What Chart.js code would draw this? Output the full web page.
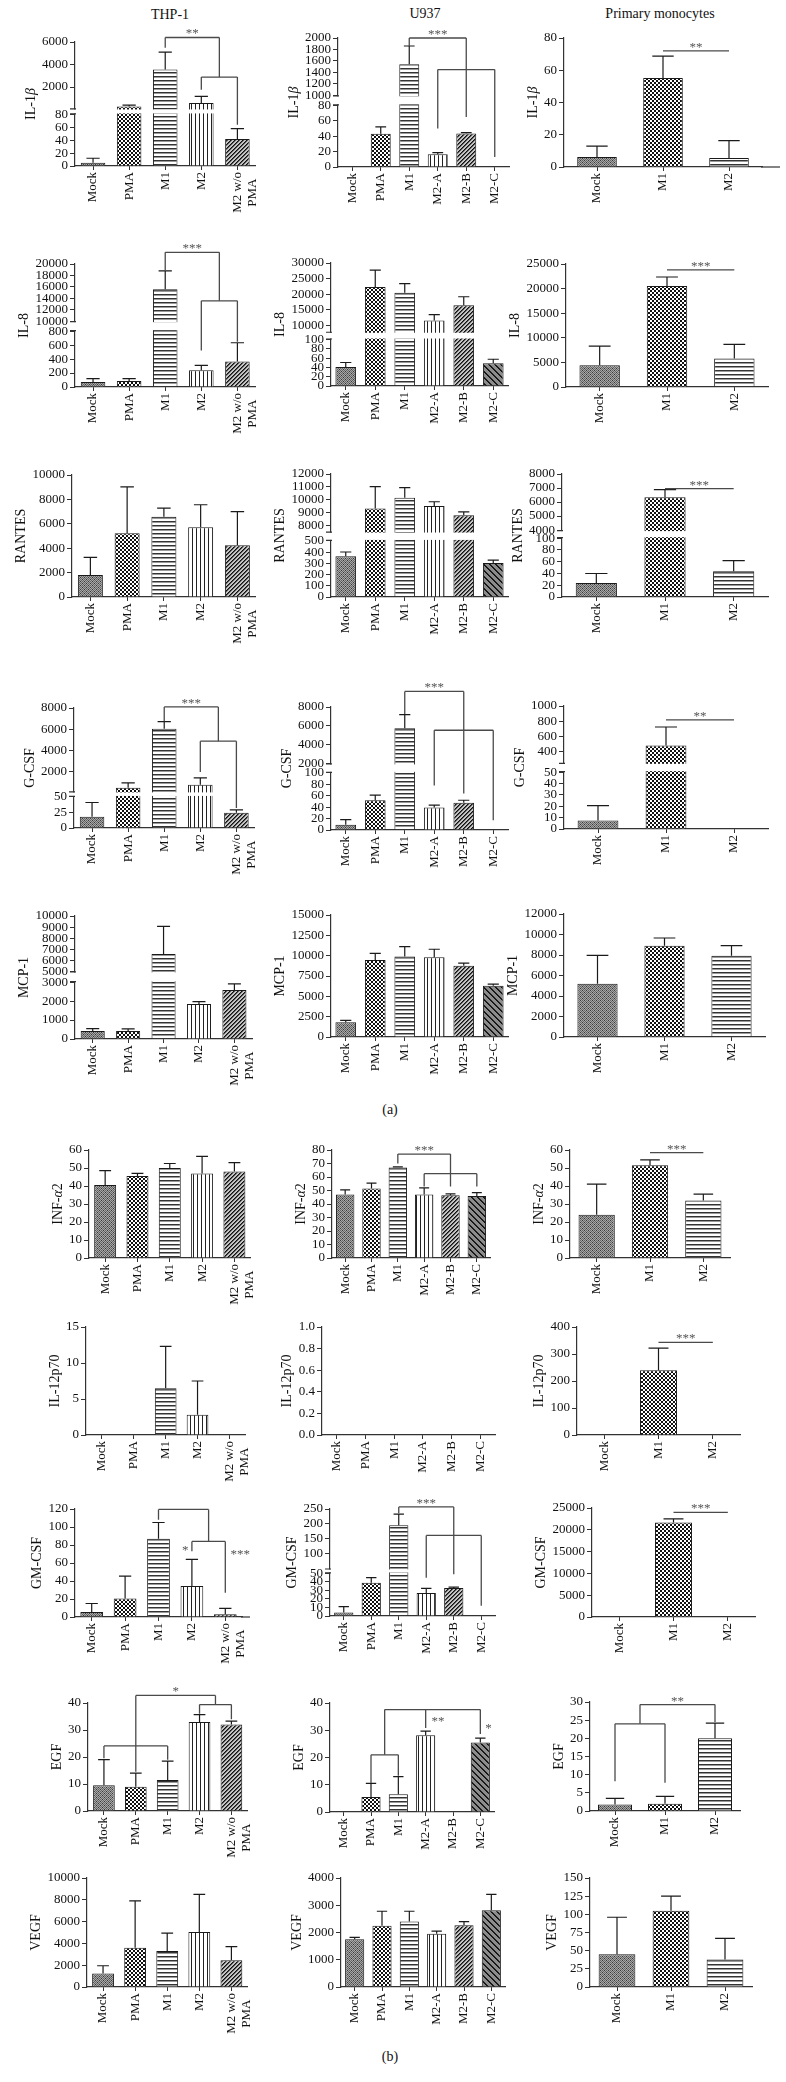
<!DOCTYPE html>
<html><head><meta charset="utf-8">
<script src="https://cdn.jsdelivr.net/npm/chart.js"></script>
<style>
body{margin:0;background:#fff;}
#page{position:relative;width:786px;height:2082px;overflow:hidden;font-family:"Liberation Serif",serif;color:#111;background:#fff;}
.ttl{position:absolute;transform:translate(-50%,-50%);white-space:nowrap;line-height:1;}
</style></head>
<body><div id="page"></div>
<script>
// ---------- categories ----------
const CAT_THP1 = ['Mock','PMA','M1','M2',['M2 w/o','PMA  ']];
const CAT_U937 = ['Mock','PMA','M1','M2-A','M2-B','M2-C'];
const CAT_PRIM = ['Mock','M1','M2'];

// ---------- values (mean) and error (upper SD/SEM) ----------
const IL1B_THP1 = [5, 270, 3550, 580, 42];
const IL1B_THP1_ERR = [7, 130, 1550, 590, 16];
const IL1B_U937 = [0, 43, 1540, 16.5, 43.5, 0];
const IL1B_U937_ERR = [0, 9, 320, 2.2, 1, 0];
const IL1B_PRIM = [6.2, 55.2, 5.6];
const IL1B_PRIM_ERR = [6.8, 13.5, 10.8];

const IL8_THP1 = [70, 85, 15600, 240, 367];
const IL8_THP1_ERR = [50, 35, 3200, 70, 267];
const IL8_U937 = [41, 22300, 20500, 11600, 16500, 49];
const IL8_U937_ERR = [9.5, 5400, 2900, 1900, 2700, 8.5];
const IL8_PRIM = [4430, 20530, 5800];
const IL8_PRIM_ERR = [3870, 1830, 2850];

const RANTES_THP1 = [1800, 5220, 6580, 5710, 4250];
const RANTES_THP1_ERR = [1450, 3800, 700, 1850, 2750];
const RANTES_U937 = [363, 9310, 10140, 9490, 8780, 304];
const RANTES_U937_ERR = [38, 1700, 800, 340, 260, 24];
const RANTES_PRIM = [24, 6350, 44];
const RANTES_PRIM_ERR = [16, 530, 18];

const GCSF_THP1 = [18, 450, 6040, 733, 24.7];
const GCSF_THP1_ERR = [23, 450, 670, 640, 4.5];
const GCSF_U937 = [9, 52, 5740, 39.5, 47.5, 0];
const GCSF_U937_ERR = [9, 9, 1460, 4, 4.5, 0];
const GCSF_PRIM = [7.5, 478, 0];
const GCSF_PRIM_ERR = [13, 245, 0];

const MCP1_THP1 = [420, 420, 6580, 1850, 2590];
const MCP1_THP1_ERR = [130, 110, 2480, 120, 320];
const MCP1_U937 = [1800, 9480, 9890, 9810, 8750, 6300];
const MCP1_U937_ERR = [250, 810, 1220, 980, 330, 200];
const MCP1_PRIM = [5200, 8910, 7930];
const MCP1_PRIM_ERR = [2760, 750, 980];

const INFA2_THP1 = [40.5, 45.5, 50, 47, 48];
const INFA2_THP1_ERR = [8, 1.5, 2.5, 9.5, 5];
const INFA2_U937 = [47, 51.5, 67, 47, 46.5, 46];
const INFA2_U937_ERR = [3.5, 4, 0.5, 5, 1, 2.5];
const INFA2_PRIM = [24, 51.5, 32];
const INFA2_PRIM_ERR = [17, 3, 3.5];

const IL12_THP1 = [0, 0, 6.5, 2.8, 0];
const IL12_THP1_ERR = [0, 0, 5.8, 4.7, 0];
const IL12_U937 = [0, 0, 0, 0, 0, 0];
const IL12_U937_ERR = [0, 0, 0, 0, 0, 0];
const IL12_PRIM = [0, 240, 0];
const IL12_PRIM_ERR = [0, 82, 0];

const GMCSF_THP1 = [5.5, 20.5, 87, 34.5, 3];
const GMCSF_THP1_ERR = [9.5, 25, 18, 29.5, 6.5];
const GMCSF_U937 = [4, 39, 195, 27, 33, 0];
const GMCSF_U937_ERR = [7, 6, 38, 5.5, 1, 0];
const GMCSF_PRIM = [0, 21700, 0];
const GMCSF_PRIM_ERR = [0, 800, 0];

const EGF_THP1 = [9.5, 9, 11.5, 33, 32];
const EGF_THP1_ERR = [9.5, 5, 7, 2.7, 1.3];
const EGF_U937 = [0, 5.5, 6.5, 28.2, 0, 25.5];
const EGF_U937_ERR = [0, 5, 6.5, 1.5, 0, 1.6];
const EGF_PRIM = [1.8, 2, 20];
const EGF_PRIM_ERR = [1.7, 2, 4.2];

const VEGF_THP1 = [1250, 3600, 3300, 5050, 2450];
const VEGF_THP1_ERR = [700, 4300, 1650, 3450, 1250];
const VEGF_U937 = [1750, 2250, 2400, 1950, 2270, 2820];
const VEGF_U937_ERR = [70, 530, 380, 100, 130, 580];
const VEGF_PRIM = [45, 105, 38];
const VEGF_PRIM_ERR = [51, 20, 29];

// ---------- tick labels ----------
const IL1B_THP1_TICKS = [0, 20, 40, 60, 80, 2000, 4000, 6000];
const IL1B_U937_TICKS = [0, 20, 40, 60, 80, 1000, 1200, 1400, 1600, 1800, 2000];
const IL1B_PRIM_TICKS = [0, 20, 40, 60, 80];
const IL8_THP1_TICKS = [0, 200, 400, 600, 800, 10000, 12000, 14000, 16000, 18000, 20000];
const IL8_U937_TICKS = [0, 20, 40, 60, 80, 100, 10000, 15000, 20000, 25000, 30000];
const IL8_PRIM_TICKS = [0, 5000, 10000, 15000, 20000, 25000];
const RANTES_THP1_TICKS = [0, 2000, 4000, 6000, 8000, 10000];
const RANTES_U937_TICKS = [0, 100, 200, 300, 400, 500, 8000, 9000, 10000, 11000, 12000];
const RANTES_PRIM_TICKS = [0, 20, 40, 60, 80, 100, 4000, 5000, 6000, 7000, 8000];
const GCSF_THP1_TICKS = [0, 25, 50, 2000, 4000, 6000, 8000];
const GCSF_U937_TICKS = [0, 20, 40, 60, 80, 100, 2000, 4000, 6000, 8000];
const GCSF_PRIM_TICKS = [0, 10, 20, 30, 40, 50, 400, 600, 800, 1000];
const MCP1_THP1_TICKS = [0, 1000, 2000, 3000, 5000, 6000, 7000, 8000, 9000, 10000];
const MCP1_U937_TICKS = [0, 2500, 5000, 7500, 10000, 12500, 15000];
const MCP1_PRIM_TICKS = [0, 2000, 4000, 6000, 8000, 10000, 12000];
const INFA2_THP1_TICKS = [0, 10, 20, 30, 40, 50, 60];
const INFA2_U937_TICKS = [0, 10, 20, 30, 40, 50, 60, 70, 80];
const INFA2_PRIM_TICKS = [0, 10, 20, 30, 40, 50, 60];
const IL12_THP1_TICKS = [0, 5, 10, 15];
const IL12_U937_TICKS = [0, 0.2, 0.4, 0.6, 0.8, 1.0];
const IL12_PRIM_TICKS = [0, 100, 200, 300, 400];
const GMCSF_THP1_TICKS = [0, 20, 40, 60, 80, 100, 120];
const GMCSF_U937_TICKS = [0, 10, 20, 30, 40, 50, 100, 150, 200, 250];
const GMCSF_PRIM_TICKS = [0, 5000, 10000, 15000, 20000, 25000];
const EGF_THP1_TICKS = [0, 10, 20, 30, 40];
const EGF_U937_TICKS = [0, 10, 20, 30, 40];
const EGF_PRIM_TICKS = [0, 5, 10, 15, 20, 25, 30];
const VEGF_THP1_TICKS = [0, 2000, 4000, 6000, 8000, 10000];
const VEGF_U937_TICKS = [0, 1000, 2000, 3000, 4000];
const VEGF_PRIM_TICKS = [0, 25, 50, 75, 100, 125, 150];

// ---------- library setup ----------
Chart.defaults.font.family = '"Liberation Serif", serif';
Chart.defaults.font.size = 13;
Chart.defaults.color = '#111';

const LS = Chart.LinearScale || Chart.registry.getScale('linear');
class BrokenScale extends LS {
  _geo() {
    const b = this._brk, H = this.bottom - this.top;
    return {b, lowTop: this.bottom - H * b.lowFrac, highBot: this.top + H * b.highFrac};
  }
  getPixelForValue(v) {
    if (!this._brk) return super.getPixelForValue(v);
    const {b, lowTop, highBot} = this._geo();
    if (v <= b.lowMax) return this.bottom - (v - this.min) / (b.lowMax - this.min) * (this.bottom - lowTop);
    if (v >= b.highMin) return highBot - (v - b.highMin) / (this.max - b.highMin) * (highBot - this.top);
    return lowTop - (v - b.lowMax) / (b.highMin - b.lowMax) * (lowTop - highBot);
  }
  getValueForPixel(px) {
    if (!this._brk) return super.getValueForPixel(px);
    const {b, lowTop, highBot} = this._geo();
    if (px >= lowTop) return this.min + (this.bottom - px) / (this.bottom - lowTop) * (b.lowMax - this.min);
    if (px <= highBot) return b.highMin + (highBot - px) / (highBot - this.top) * (this.max - b.highMin);
    return b.lowMax + (lowTop - px) / (lowTop - highBot) * (b.highMin - b.lowMax);
  }
}
BrokenScale.id = 'broken';
BrokenScale.defaults = LS.defaults;
Chart.register(BrokenScale);

// ---------- fill patterns ----------
const PATS = {};
function mkPat(kind) {
  const c = document.createElement('canvas');
  const sz = kind === 'diag2' ? 6 : 4;
  c.width = sz; c.height = sz;
  const x = c.getContext('2d');
  const r = (a, b, w, h, col) => { x.fillStyle = col; x.fillRect(a, b, w, h); };
  if (kind === 'mock') {
    for (let i = 0; i < 4; i++) for (let j = 0; j < 4; j++) r(i, j, 1, 1, (i + j) % 2 ? '#a8a8a8' : '#666');
    r(0, 0, 1, 1, '#3a3a3a'); r(2, 2, 1, 1, '#3a3a3a');
  } else if (kind === 'pma') {
    r(0, 0, 4, 4, '#fff'); r(0, 0, 2, 2, '#111'); r(2, 2, 2, 2, '#111');
  } else if (kind === 'hs') {
    r(0, 0, 4, 4, '#fff'); r(0, 0, 4, 1, '#333'); r(0, 1, 4, 1, '#9a9a9a');
  } else if (kind === 'vs') {
    r(0, 0, 4, 4, '#fff'); r(0, 0, 1, 4, '#222');
  } else if (kind === 'diag') {
    r(0, 0, 4, 4, '#c4c4c4');
    for (let k = 0; k < 4; k++) { r(3 - k, k, 1, 1, '#111'); r((4 - k) % 4, k, 1, 1, '#555'); }
  } else if (kind === 'diag2') {
    r(0, 0, 6, 6, '#8c8c8c');
    for (let k = 0; k < 6; k++) { r(k, k, 1, 1, '#111'); r((k + 1) % 6, k, 1, 1, '#222'); }
  }
  return x.createPattern(c, 'repeat');
}
function pat(kind) { if (!PATS[kind]) PATS[kind] = mkPat(kind); return PATS[kind]; }

const GROUPS = {
  T: {cats: CAT_THP1, pats: ['mock', 'pma', 'hs', 'vs', 'diag'], bw: 0.68},
  U: {cats: CAT_U937, pats: ['mock', 'pma', 'hs', 'vs', 'diag', 'diag2'], bw: 0.7},
  P: {cats: CAT_PRIM, pats: ['mock', 'pma', 'hs'], bw: 0.6},
  Q: {cats: CAT_PRIM, pats: ['mock', 'pma', 'hs'], bw: 0.68}
};

const T_IL1B = [['IL-1', 0], ['\u03B2', 1]];
const T_INF = [['INF-', 0], ['\u03B1', 1], ['2', 0]];

// ---------- panel layout (pixel frame) + annotations in data units ----------
const PANELS = [
  {g: 'T', t: T_IL1B, v: IL1B_THP1, e: IL1B_THP1_ERR, k: IL1B_THP1_TICKS, max: 6000, L: 75, R: 258, T: 42.3, B: 166.7,
   brk: {lowMax: 80, highMin: 100, lowFrac: 0.416, highFrac: 0.536},
   br: [{y: 6400, x1: 2, x2: 3.5, d: [[2, 5500], [3.5, 2890]], t: '**'}, {y: 2890, x1: 3, x2: 4, d: [[3, 1760], [4, 64]]}]},
  {g: 'U', t: T_IL1B, v: IL1B_U937, e: IL1B_U937_ERR, k: IL1B_U937_TICKS, max: 2000, L: 338, R: 509, T: 37.7, B: 166.7,
   brk: {lowMax: 80, highMin: 1000, lowFrac: 0.478, highFrac: 0.444},
   br: [{y: 2000, x1: 2, x2: 4, d: [[2, 1860], [4, 1448]], t: '***'}, {y: 1448, x1: 3, x2: 5, d: [[3, 50], [4, 65], [5, 13]]}]},
  {g: 'P', t: T_IL1B, v: IL1B_PRIM, e: IL1B_PRIM_ERR, k: IL1B_PRIM_TICKS, max: 80, L: 564, R: 762, ext: 18, T: 37.7, B: 166.7,
   br: [{y: 72, x1: 1, x2: 2, t: '**'}]},

  {g: 'T', t: [['IL-8', 0]], v: IL8_THP1, e: IL8_THP1_ERR, k: IL8_THP1_TICKS, max: 20000, L: 75, R: 258, T: 264, B: 386.7,
   brk: {lowMax: 800, highMin: 10000, lowFrac: 0.454, highFrac: 0.4645},
   br: [{y: 22050, x1: 2, x2: 3.5, d: [[2, 18900], [3.5, 13560]], t: '***'}, {y: 13560, x1: 3, x2: 4, d: [[3, 524], [4, 650]]}]},
  {g: 'U', t: [['IL-8', 0]], v: IL8_U937, e: IL8_U937_ERR, k: IL8_U937_TICKS, max: 30000, L: 331, R: 508, T: 263.3, B: 386.7,
   brk: {lowMax: 100, highMin: 8000, lowFrac: 0.378, highFrac: 0.559}},
  {g: 'P', t: [['IL-8', 0]], v: IL8_PRIM, e: IL8_PRIM_ERR, k: IL8_PRIM_TICKS, max: 25000, L: 566, R: 768, T: 264, B: 386.7,
   br: [{y: 23800, x1: 1, x2: 2, t: '***'}]},

  {g: 'T', t: [['RANTES', 0]], v: RANTES_THP1, e: RANTES_THP1_ERR, k: RANTES_THP1_TICKS, max: 10000, L: 72, R: 258, T: 475, B: 596.7},
  {g: 'U', t: [['RANTES', 0]], v: RANTES_U937, e: RANTES_U937_ERR, k: RANTES_U937_TICKS, max: 12000, L: 331, R: 508, T: 474, B: 596.7,
   brk: {lowMax: 500, highMin: 7500, lowFrac: 0.456, highFrac: 0.468}},
  {g: 'P', t: [['RANTES', 0]], v: RANTES_PRIM, e: RANTES_PRIM_ERR, k: RANTES_PRIM_TICKS, max: 8000, L: 562, R: 768, T: 474, B: 596.7,
   brk: {lowMax: 100, highMin: 4000, lowFrac: 0.478, highFrac: 0.456},
   br: [{y: 6950, x1: 1, x2: 2, t: '***'}]},

  {g: 'T', t: [['G-CSF', 0]], v: GCSF_THP1, e: GCSF_THP1_ERR, k: GCSF_THP1_TICKS, max: 8000, L: 74, R: 257, T: 708.3, B: 828,
   brk: {lowMax: 50, highMin: 100, lowFrac: 0.259, highFrac: 0.695},
   br: [{y: 8100, x1: 2, x2: 3.5, d: [[2, 6750], [3.5, 4860]], t: '***'}, {y: 4860, x1: 3, x2: 4, d: [[3, 1940], [4, 32]]}]},
  {g: 'U', t: [['G-CSF', 0]], v: GCSF_U937, e: GCSF_U937_ERR, k: GCSF_U937_TICKS, max: 8000, L: 331, R: 508, T: 706.7, B: 830,
   brk: {lowMax: 100, highMin: 2000, lowFrac: 0.465, highFrac: 0.459},
   br: [{y: 9660, x1: 2, x2: 4, d: [[2, 7250], [4, 5530]], t: '***'}, {y: 5530, x1: 3, x2: 5, d: [[3, 78], [4, 64], [5, 17]]}]},
  {g: 'P', t: [['G-CSF', 0]], v: GCSF_PRIM, e: GCSF_PRIM_ERR, k: GCSF_PRIM_TICKS, max: 1000, L: 564, R: 768, T: 706, B: 829.3,
   brk: {lowMax: 50, highMin: 250, lowFrac: 0.462, highFrac: 0.462},
   br: [{y: 816, x1: 1, x2: 2, t: '**'}]},

  {g: 'T', t: [['MCP-1', 0]], v: MCP1_THP1, e: MCP1_THP1_ERR, k: MCP1_THP1_TICKS, max: 10000, L: 75, R: 255, T: 915.7, B: 1038.3,
   brk: {lowMax: 3000, highMin: 5000, lowFrac: 0.462, highFrac: 0.451}},
  {g: 'U', t: [['MCP-1', 0]], v: MCP1_U937, e: MCP1_U937_ERR, k: MCP1_U937_TICKS, max: 15000, L: 331, R: 508, T: 915, B: 1037.3},
  {g: 'P', t: [['MCP-1', 0]], v: MCP1_PRIM, e: MCP1_PRIM_ERR, k: MCP1_PRIM_TICKS, max: 12000, L: 564, R: 765, T: 914.3, B: 1037.3},

  {g: 'T', t: T_INF, v: INFA2_THP1, e: INFA2_THP1_ERR, k: INFA2_THP1_TICKS, max: 60, L: 89, R: 255, T: 1150, B: 1258.3},
  {g: 'U', t: T_INF, v: INFA2_U937, e: INFA2_U937_ERR, k: INFA2_U937_TICKS, max: 80, L: 332, R: 490, T: 1150, B: 1258.3,
   br: [{y: 77, x1: 2, x2: 4, d: [[2, 70], [4, 62.5]], t: '***'}, {y: 62.5, x1: 3, x2: 5, d: [[3, 53], [4, 53], [5, 53]]}]},
  {g: 'Q', t: T_INF, v: INFA2_PRIM, e: INFA2_PRIM_ERR, k: INFA2_PRIM_TICKS, max: 60, L: 570, R: 730, T: 1150, B: 1258.3,
   br: [{y: 58.5, x1: 1, x2: 2, t: '***'}]},

  {g: 'T', t: [['IL-12p70', 0]], v: IL12_THP1, e: IL12_THP1_ERR, k: IL12_THP1_TICKS, max: 15, L: 86, R: 250, T: 1326.7, B: 1434.3},
  {g: 'U', t: [['IL-12p70', 0]], v: IL12_U937, e: IL12_U937_ERR, k: IL12_U937_TICKS, max: 1, dec: 1, L: 322, R: 495, T: 1326.7, B: 1434.3},
  {g: 'Q', t: [['IL-12p70', 0]], v: IL12_PRIM, e: IL12_PRIM_ERR, k: IL12_PRIM_TICKS, max: 400, L: 577, R: 740, T: 1326.7, B: 1434.3,
   br: [{y: 343, x1: 1, x2: 2, t: '***'}]},

  {g: 'T', t: [['GM-CSF', 0]], v: GMCSF_THP1, e: GMCSF_THP1_ERR, k: GMCSF_THP1_TICKS, max: 120, L: 75, R: 242, ext: 8, T: 1509.3, B: 1617.3,
   br: [{y: 119.5, x1: 2, x2: 3.5, d: [[2, 108], [3.5, 84]]}, {y: 84, x1: 3, x2: 4, d: [[3, 73], [4, 27]], lb: [['*', 2.8, 78], ['***', 4.45, 73]]}]},
  {g: 'U', t: [['GM-CSF', 0]], v: GMCSF_U937, e: GMCSF_U937_ERR, k: GMCSF_U937_TICKS, max: 250, L: 330, R: 495, T: 1509.3, B: 1616.7,
   brk: {lowMax: 50, highMin: 50, lowFrac: 0.398, highFrac: 0.556},
   br: [{y: 257, x1: 2, x2: 4, d: [[2, 236], [4, 161]], t: '***'}, {y: 161, x1: 3, x2: 5, d: [[3, 45], [4, 49], [5, 12]]}]},
  {g: 'Q', t: [['GM-CSF', 0]], v: GMCSF_PRIM, e: GMCSF_PRIM_ERR, k: GMCSF_PRIM_TICKS, max: 25000, L: 592, R: 755, T: 1508.3, B: 1617.3,
   br: [{y: 24000, x1: 1, x2: 2, t: '***'}]},

  {g: 'T', t: [['EGF', 0]], v: EGF_THP1, e: EGF_THP1_ERR, k: EGF_THP1_TICKS, max: 40, L: 88, R: 252, T: 1703.3, B: 1811.7,
   br: [{y: 42.8, x1: 1, x2: 3.5, d: [[1, 14.5], [3.5, 39.4]], t: '*'}, {y: 24.1, x1: 0, x2: 2, d: [[0, 19.5], [2, 19]]},
        {y: 39.4, x1: 3, x2: 4, d: [[3, 36], [4, 34]]}]},
  {g: 'U', t: [['EGF', 0]], v: EGF_U937, e: EGF_U937_ERR, k: EGF_U937_TICKS, max: 40, L: 330, R: 494, T: 1702.7, B: 1811.7,
   br: [{y: 37.6, x1: 1.5, x2: 5, d: [[1.5, 21], [3, 30.8], [5, 28.6]], lb: [['**', 3.45, 34.5], ['*', 5.3, 32]]},
        {y: 21, x1: 1, x2: 2, d: [[1, 10.6], [2, 13.3]]}]},
  {g: 'Q', t: [['EGF', 0]], v: EGF_PRIM, e: EGF_PRIM_ERR, k: EGF_PRIM_TICKS, max: 30, L: 590, R: 740, T: 1702.3, B: 1811.7,
   br: [{y: 29.3, x1: 0.5, x2: 2, d: [[0.5, 24], [2, 24.5]], t: '**'}, {y: 24, x1: 0, x2: 1, d: [[0, 8.2], [1, 7.8]]}]},

  {g: 'T', t: [['VEGF', 0]], v: VEGF_THP1, e: VEGF_THP1_ERR, k: VEGF_THP1_TICKS, max: 10000, L: 87, R: 252, T: 1878.3, B: 1987.7},
  {g: 'U', t: [['VEGF', 0]], v: VEGF_U937, e: VEGF_U937_ERR, k: VEGF_U937_TICKS, max: 4000, L: 341, R: 505, T: 1878.3, B: 1987.7},
  {g: 'Q', t: [['VEGF', 0]], v: VEGF_PRIM, e: VEGF_PRIM_ERR, k: VEGF_PRIM_TICKS, max: 150, L: 590, R: 752, T: 1878.3, B: 1987.7}
];

// ---------- drawing ----------
const page = document.getElementById('page');
const YW = 64, PR = 14, PT = 42, XH = 62;
const FONT = '"Liberation Serif", serif';

function label(s, x, y, size) {
  const d = document.createElement('div');
  d.className = 'ttl';
  d.style.left = x + 'px'; d.style.top = y + 'px'; d.style.fontSize = size + 'px';
  d.textContent = s;
  page.appendChild(d);
}

function fmt(p, v) { return p.dec ? Number(v).toFixed(p.dec) : String(v); }

function star(ctx, s, x, yCenter) {
  ctx.save();
  ctx.font = '13px ' + FONT; ctx.fillStyle = '#555';
  ctx.textAlign = 'center'; ctx.textBaseline = 'alphabetic';
  ctx.fillText(s, x, yCenter + 7);
  ctx.restore();
}

function deco(p) {
  return {
    id: 'deco',
    afterDatasetsDraw(chart) {
      const ctx = chart.ctx, ys = chart.scales.y, xs = chart.scales.x;
      const meta = chart.getDatasetMeta(0);
      ctx.save();
      ctx.strokeStyle = '#1a1a1a'; ctx.lineWidth = 1.2;
      meta.data.forEach((el, i) => {
        const e = p.e[i];
        if (!e) return;
        const y0 = ys.getPixelForValue(p.v[i]), y1 = ys.getPixelForValue(p.v[i] + e);
        const hw = el.width * 0.27;
        ctx.beginPath();
        ctx.moveTo(el.x, y0); ctx.lineTo(el.x, y1);
        ctx.moveTo(el.x - hw, y1); ctx.lineTo(el.x + hw, y1);
        ctx.stroke();
      });
      if (p.brk) {
        const H = ys.bottom - ys.top;
        const lowTop = ys.bottom - H * p.brk.lowFrac, highBot = ys.top + H * p.brk.highFrac;
        ctx.fillStyle = '#fff';
        ctx.fillRect(ys.right - 7, highBot + 1, xs.right - ys.right + 9, lowTop - highBot - 2);
        ctx.strokeStyle = '#333'; ctx.lineWidth = 1.2;
        ctx.beginPath();
        ctx.moveTo(ys.right - 5, highBot + 0.5); ctx.lineTo(ys.right + 1, highBot + 0.5);
        ctx.moveTo(ys.right - 5, lowTop - 0.5); ctx.lineTo(ys.right + 1, lowTop - 0.5);
        ctx.stroke();
      }
      ctx.restore();
    },
    afterDraw(chart) {
      const ctx = chart.ctx, ys = chart.scales.y, xs = chart.scales.x;
      ctx.save();
      // axis extension
      if (p.ext) {
        ctx.strokeStyle = '#333'; ctx.lineWidth = 1.2;
        ctx.beginPath(); ctx.moveTo(xs.right - 1, ys.bottom); ctx.lineTo(xs.right + p.ext, ys.bottom); ctx.stroke();
      }
      // significance brackets
      ctx.strokeStyle = '#4a4a4a'; ctx.lineWidth = 1.3;
      (p.br || []).forEach(b => {
        const y = ys.getPixelForValue(b.y);
        const x1 = xs.getPixelForValue(b.x1), x2 = xs.getPixelForValue(b.x2);
        ctx.beginPath();
        ctx.moveTo(x1, y); ctx.lineTo(x2, y);
        (b.d || []).forEach(([dx, dy]) => {
          const px = xs.getPixelForValue(dx);
          ctx.moveTo(px, y); ctx.lineTo(px, ys.getPixelForValue(dy));
        });
        ctx.stroke();
        if (b.t) star(ctx, b.t, (x1 + x2) / 2, y - 7);
        (b.lb || []).forEach(([s, lx, ly]) => star(ctx, s, xs.getPixelForValue(lx), ys.getPixelForValue(ly)));
      });
      // y-axis title (mixed italic)
      ctx.font = '13px ' + FONT;
      let maxW = 0;
      p.k.forEach(v => { maxW = Math.max(maxW, ctx.measureText(fmt(p, v)).width); });
      const size = 14;
      const tx = ys.right - 5 - 2 - maxW - 4 - size / 2;
      const ty = (ys.top + ys.bottom) / 2;
      ctx.translate(tx, ty); ctx.rotate(-Math.PI / 2);
      const fonts = p.t.map(([s, it]) => (it ? 'italic ' : '') + size + 'px ' + FONT);
      let tw = 0;
      const ws = p.t.map(([s], i) => { ctx.font = fonts[i]; const w = ctx.measureText(s).width; tw += w; return w; });
      let cx = -tw / 2;
      ctx.fillStyle = '#111'; ctx.textBaseline = 'middle'; ctx.textAlign = 'left';
      p.t.forEach(([s], i) => { ctx.font = fonts[i]; ctx.fillText(s, cx, 0); cx += ws[i]; });
      ctx.restore();
    }
  };
}

function makePanel(p) {
  const G = GROUPS[p.g];
  const ext = p.ext || 0;
  const W = Math.round(YW + (p.R - p.L) + PR + ext);
  const H = Math.round(PT + (p.B - p.T) + XH);
  const cv = document.createElement('canvas');
  cv.width = W; cv.height = H;
  cv.style.cssText = `position:absolute;left:${p.L - YW}px;top:${p.T - PT}px;width:${W}px;height:${H}px;`;
  page.appendChild(cv);
  new Chart(cv, {
    type: 'bar',
    data: {
      labels: G.cats,
      datasets: [{
        data: p.v,
        backgroundColor: G.pats.map(pat),
        borderColor: '#1a1a1a', borderWidth: 1, borderSkipped: 'start',
        barPercentage: G.bw, categoryPercentage: 1
      }]
    },
    options: {
      responsive: false, animation: false, devicePixelRatio: 1,
      layout: {autoPadding: false, padding: {top: PT, right: PR + ext, left: 0, bottom: 0}},
      plugins: {legend: {display: false}, tooltip: {enabled: false}},
      events: [],
      scales: {
        x: {
          type: 'category', offset: true,
          grid: {display: true, drawOnChartArea: false, drawTicks: true, tickLength: 4, offset: false, color: '#333', lineWidth: 1},
          border: {display: true, color: '#333', width: 1.2},
          ticks: {minRotation: 90, maxRotation: 90, autoSkip: false, padding: 2, color: '#111', font: {size: 13}},
          afterFit: s => { s.height = XH; }
        },
        y: {
          type: p.brk ? 'broken' : 'linear', min: 0, max: p.max, bounds: 'data',
          grid: {display: true, drawOnChartArea: false, drawTicks: true, tickLength: 5, color: '#333', lineWidth: 1},
          border: {display: true, color: '#333', width: 1.2},
          ticks: {autoSkip: false, padding: 2, color: '#111', font: {size: 13}, callback: v => fmt(p, v)},
          afterDataLimits: s => { s._brk = p.brk || null; },
          afterBuildTicks: s => { s.min = 0; s.max = p.max; s.ticks = p.k.map(v => ({value: v})); },
          afterFit: s => { s.width = YW; }
        }
      }
    },
    plugins: [deco(p)]
  });
}

label('THP-1', 170, 15, 14);
label('U937', 425, 14, 14);
label('Primary monocytes', 660, 14, 14);
label('(a)', 390, 1110, 14);
label('(b)', 390, 2057, 14);
PANELS.forEach(makePanel);
</script>
</body></html>
